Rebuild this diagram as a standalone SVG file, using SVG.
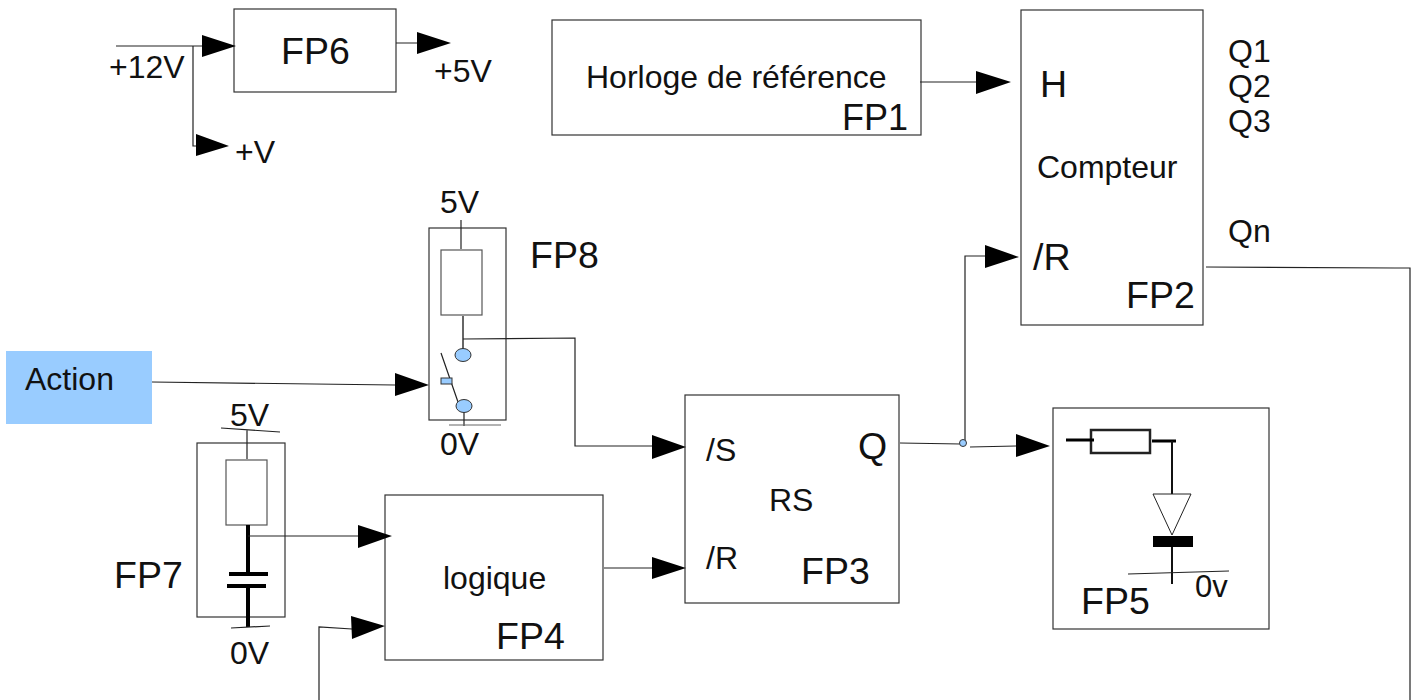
<svg xmlns="http://www.w3.org/2000/svg" width="1415" height="700" viewBox="0 0 1415 700">
<style>
text{font-family:"Liberation Sans",Arial,sans-serif;fill:#111}
.b{fill:#fff;stroke:#333;stroke-width:1.2}
.l{fill:none;stroke:#222;stroke-width:1.2}
.t{fill:none;stroke:#000;stroke-width:4}
.c{fill:#99ccff;stroke:#333;stroke-width:1}
.a{fill:#000}
.s27{font-size:32px}.s35{font-size:37.5px}.s26{font-size:31px}
</style>
<rect width="1415" height="700" fill="#fff"/>
<g id="fp6"><rect class="b" x="234" y="9" width="162" height="83"/><text class="s35" x="281" y="64">FP6</text></g>
<text id="v12" class="s27" x="109" y="78">+12V</text>
<text id="v5" class="s27" x="434" y="82">+5V</text>
<text id="vp" class="s27" x="235" y="163">+V</text>
<g id="fp1"><rect class="b" x="552" y="20" width="369" height="115"/><text class="s27" x="586" y="88">Horloge de référence</text><text x="842" y="130" style="font-size:36px">FP1</text></g>
<g id="fp2"><rect class="b" x="1021" y="10" width="182" height="315"/><text class="s35" x="1040" y="97">H</text><text class="s27" x="1037" y="178">Compteur</text><text class="s35" x="1033" y="270">/R</text><text class="s35" x="1126" y="308">FP2</text></g>
<g id="outs"><text class="s27" x="1228" y="62">Q1</text><text class="s27" x="1228" y="97">Q2</text><text class="s27" x="1228" y="132">Q3</text><text class="s27" x="1228" y="242">Qn</text></g>
<g id="action"><rect x="6" y="351" width="146" height="73" fill="#99ccff"/><text class="s27" x="25" y="390">Action</text></g>
<g id="fp8">
<rect class="b" x="429" y="228" width="77" height="192"/>
<path class="l" d="M461 220V249"/>
<rect x="441" y="250" width="41" height="65" fill="#fff" stroke="#555" stroke-width="1.2"/>
<path fill="none" stroke="#666" stroke-width="2" d="M463 316V349"/>
<path class="l" d="M441 353L458 402M464 412V426"/>
<path fill="none" stroke="#666" stroke-width="1.2" d="M449 425H501"/>
<ellipse class="c" cx="463" cy="355" rx="8" ry="6.5"/><ellipse class="c" cx="464" cy="406" rx="8" ry="6.5"/>
<rect class="c" x="441" y="378" width="11" height="6"/>
<text class="s27" x="440" y="213">5V</text><text class="s27" x="440" y="455">0V</text><text class="s35" x="530" y="268">FP8</text>
</g>
<g id="fp7">
<rect class="b" x="197" y="443" width="88" height="174"/>
<path class="l" d="M221 428L280 432M247 430V459"/>
<rect x="226" y="460" width="41" height="65" fill="#fff" stroke="#555" stroke-width="1.2"/>
<path class="t" d="M248 525V574M229 574H268M227 586H266M248 586V627"/>
<path class="l" d="M231 628L270 626"/>
<text class="s27" x="230" y="426">5V</text><text class="s27" x="230" y="664">0V</text><text class="s35" x="114" y="588">FP7</text>
</g>
<g id="fp4"><rect class="b" x="385" y="495" width="218" height="165"/><text class="s27" x="443" y="589">logique</text><text class="s35" x="496" y="649">FP4</text></g>
<g id="fp3"><rect class="b" x="685" y="395" width="214" height="208"/><text class="s27" x="706" y="461">/S</text><text class="s27" x="706" y="569">/R</text><text class="s27" x="769" y="511">RS</text><text class="s35" x="858" y="459">Q</text><text class="s35" x="801" y="584">FP3</text></g>
<g id="fp5">
<rect class="b" x="1053" y="408" width="216" height="221"/>
<rect x="1091" y="430" width="59" height="23" fill="#fff" stroke="#222" stroke-width="2.5"/>
<path fill="none" stroke="#000" stroke-width="3" d="M1066 440H1094M1152 441H1176"/>
<path fill="none" stroke="#111" stroke-width="2" d="M1172 441V494M1172 546V584"/>
<path d="M1153 494H1191L1172 535Z" fill="#fff" stroke="#222" stroke-width="1"/>
<rect x="1153" y="536" width="40" height="11" fill="#000"/>
<path class="l" d="M1128 574L1229 571"/>
<text class="s26" x="1195" y="597">0v</text><text class="s35" x="1081" y="614">FP5</text>
</g>
<g id="connectors">
<path class="l" d="M116 46H204M193 46V146H197M396 43H420M920 82H976M1206 267L1395 268L1410 268L1410 700"/>
<polyline class="l" points="152,382 395,385"/>
<polyline class="l" points="463,339 575,338 575,446 652,446"/>
<polyline class="l" points="900,443 961,444"/>
<polyline class="l" points="970,447 1016,446"/>
<polyline class="l" points="965,441 965,256 986,256"/>
<polyline class="l" points="248,536 360,536"/>
<polyline class="l" points="319,700 319,627 352,629"/>
<polyline class="l" points="604,568 652,568"/>
<path class="a" d="M202 35L236 46L202 57ZM417 32L451 43L417 54ZM196 134L229 146L196 156ZM976 71L1011 82L976 94ZM985 245L1019 257L985 268ZM395 373L429 385L395 396ZM652 435L686 447L652 459ZM652 557L686 568L652 579ZM1016 434L1050 446L1016 457ZM358 525L392 536L358 548ZM351 616L385 626L352 639Z"/>
<circle class="c" cx="963" cy="443" r="3.5"/>
</g>
</svg>
